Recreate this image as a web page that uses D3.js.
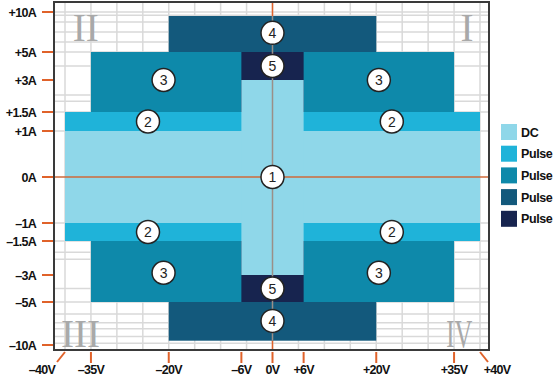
<!DOCTYPE html>
<html><head><meta charset="utf-8">
<script src="https://cdn.jsdelivr.net/npm/d3@7"></script>
<style>
html,body{margin:0;padding:0;background:#fff;}
svg{display:block;}
.lab{font-family:"Liberation Sans",Arial,sans-serif;font-weight:bold;font-size:12.5px;letter-spacing:-0.7px;fill:#111;}
</style></head>
<body><svg id="c" width="555" height="381"></svg>
<script>
// ---- data ----
const voltTicks = [-40, -35, -20, -6, 0, 6, 20, 35, 40];
const voltLabels = ["–40V", "–35V", "–20V", "–6V", "0V", "+6V", "+20V", "+35V", "+40V"];
const ampTicks = [10, 5, 3, 1.5, 1, 0, -1, -1.5, -3, -5, -10];
const ampLabels = ["+10A", "+5A", "+3A", "+1.5A", "+1A", "0A", "–1A", "–1.5A", "–3A", "–5A", "–10A"];
const voltGrid = [-40, -35, -30, -25, -20, -15, -10, -5, 0, 5, 10, 15, 20, 25, 30, 35, 40];
const ampGrid = [10, 9.6, 8.75, 7.5, 6.25, 5, 4, 2.3, 2, 1.5, 1, -1, -1.5, -2, -2.3, -4, -5, -6.4, -7.4, -8.1, -9, -9.8];
const legendNames = ["DC", "Pulse", "Pulse", "Pulse", "Pulse"];
// regions: series index, V from, V to, A from, A to (draw order)
const regionSeries = [3, 2, 4, 1, 0, 0];
const regionV0 = [-20, -35, -6, -40, -40, -6];
const regionV1 = [20, 35, 6, 40, 40, 6];
const regionA0 = [-9.5, -5, -5, -1.5, -1, -3];
const regionA1 = [9.5, 5, 5, 1.5, 1, 3];
// numbered markers
const markerNum = [1, 2, 2, 2, 2, 3, 3, 3, 3, 4, 4, 5, 5];
const markerV = [0, -24, 23, -24, 23, -21, 20.5, -21, 20.5, 0, 0, 0, 0];
const markerA = [0, 1.25, 1.25, -1.25, -1.25, 3, 3, -2.9, -2.9, 7.4, -7.2, 4, -4];
const quadrantNames = ["I", "II", "III", "IV"];
const quadrantV = [37.5, -36, -37, 36];
const quadrantA = [8.1, 8.1, -8.6, -8.6];

// ---- styles ----
const colors = ["#8fd7e9", "#1fb3d9", "#0e89aa", "#13597c", "#17244f"];
const orange = "#e0622a";

const svg = d3.select("#c");
const x = d3.scaleLinear().domain([-40, 40]).range([65, 480]);
const y = d3.scaleLinear()
  .domain([-10, -5, -3, -1.5, -1, 0, 1, 1.5, 3, 5, 10])
  .range([345, 302, 275, 241, 223, 177, 131, 112, 80, 52, 12]);

const L = 54, R = 489, T = 2, B = 350;

// grid
svg.append("g").selectAll("line").data(voltGrid).join("line")
  .attr("x1", d => x(d)).attr("x2", d => x(d)).attr("y1", T).attr("y2", B)
  .attr("stroke", "#d9d9d9").attr("stroke-width", 1.5);
svg.append("g").selectAll("line").data(ampGrid).join("line")
  .attr("x1", L).attr("x2", R).attr("y1", d => y(d)).attr("y2", d => y(d))
  .attr("stroke", "#d9d9d9").attr("stroke-width", 1.5);

// quadrant numerals
svg.append("g").selectAll("text").data(quadrantNames).join("text")
  .attr("x", (d, i) => x(quadrantV[i])).attr("y", (d, i) => y(quadrantA[i]))
  .attr("text-anchor", "middle")
  .attr("font-family", "'Liberation Serif','DejaVu Serif',serif")
  .attr("font-size", 40).attr("fill", "#a9a9a9").attr("dy", "0.35em")
  .attr("textLength", d => d.length * 13).attr("lengthAdjust", "spacingAndGlyphs")
  .text(d => d);

// 0V vertical orange line (behind)
svg.append("line").attr("x1", x(0)).attr("x2", x(0)).attr("y1", T).attr("y2", B)
  .attr("stroke", orange).attr("stroke-width", 1.5);

// regions
svg.append("g").selectAll("rect").data(regionSeries).join("rect")
  .attr("x", (d, i) => x(regionV0[i]))
  .attr("width", (d, i) => x(regionV1[i]) - x(regionV0[i]))
  .attr("y", (d, i) => y(regionA1[i]))
  .attr("height", (d, i) => y(regionA0[i]) - y(regionA1[i]))
  .attr("fill", d => colors[d]);

// gray vertical line over regions
svg.append("line").attr("x1", x(0)).attr("x2", x(0))
  .attr("y1", y(regionA1[0])).attr("y2", y(regionA0[0]))
  .attr("stroke", "#9a8f88").attr("stroke-width", 1.5);

// 0A horizontal orange line
svg.append("line").attr("x1", L).attr("x2", R).attr("y1", y(0)).attr("y2", y(0))
  .attr("stroke", "#cf6a3a").attr("stroke-width", 1.5);

// frame
svg.append("rect").attr("x", L).attr("y", T).attr("width", R - L).attr("height", B - T)
  .attr("fill", "none").attr("stroke", "#3a3a3a").attr("stroke-width", 2);

// left axis
const ly = svg.append("g");
ly.selectAll("line").data(ampTicks).join("line")
  .attr("x1", 42).attr("x2", 53).attr("y1", d => y(d)).attr("y2", d => y(d))
  .attr("stroke", orange).attr("stroke-width", 2);
ly.selectAll("text").data(ampTicks).join("text").attr("class", "lab")
  .attr("x", 36).attr("y", d => y(d)).attr("dy", "0.36em").attr("text-anchor", "end")
  .text((d, i) => ampLabels[i]);

// bottom axis
const bx = svg.append("g");
const last = voltTicks.length - 1;
bx.selectAll("path").data(voltTicks).join("path")
  .attr("d", (d, i) => {
    const px = x(d);
    if (i === 0) return `M${px},352L${px - 8},362`;
    if (i === last) return `M${px},352L${px + 8},362`;
    return `M${px},352L${px},363`;
  })
  .attr("stroke", orange).attr("stroke-width", 2).attr("fill", "none");
bx.selectAll("text").data(voltTicks).join("text").attr("class", "lab")
  .attr("x", (d, i) => x(d) + (i === 0 ? -23 : i === last ? 17 : 0))
  .attr("y", 374).attr("text-anchor", "middle")
  .text((d, i) => voltLabels[i]);

// markers
const mk = svg.append("g").selectAll("g").data(markerNum).join("g")
  .attr("transform", (d, i) => `translate(${x(markerV[i])},${y(markerA[i])})`);
mk.append("circle").attr("r", 11.5).attr("fill", "#fff").attr("stroke", "#222").attr("stroke-width", 1.5);
mk.append("text").attr("text-anchor", "middle").attr("dy", "0.36em")
  .attr("font-family", "'Liberation Sans',Arial,sans-serif").attr("font-size", 14)
  .attr("fill", "#222").text(d => d);

// legend
const lg = svg.append("g").selectAll("g").data(legendNames).join("g")
  .attr("transform", (d, i) => `translate(501,${124 + i * 21.7})`);
lg.append("rect").attr("width", 16).attr("height", 16).attr("fill", (d, i) => colors[i]);
lg.append("text").attr("class", "lab").attr("x", 20).attr("y", 8).attr("dy", "0.36em")
  .style("letter-spacing", "-0.4px").text(d => d);
</script></body></html>
